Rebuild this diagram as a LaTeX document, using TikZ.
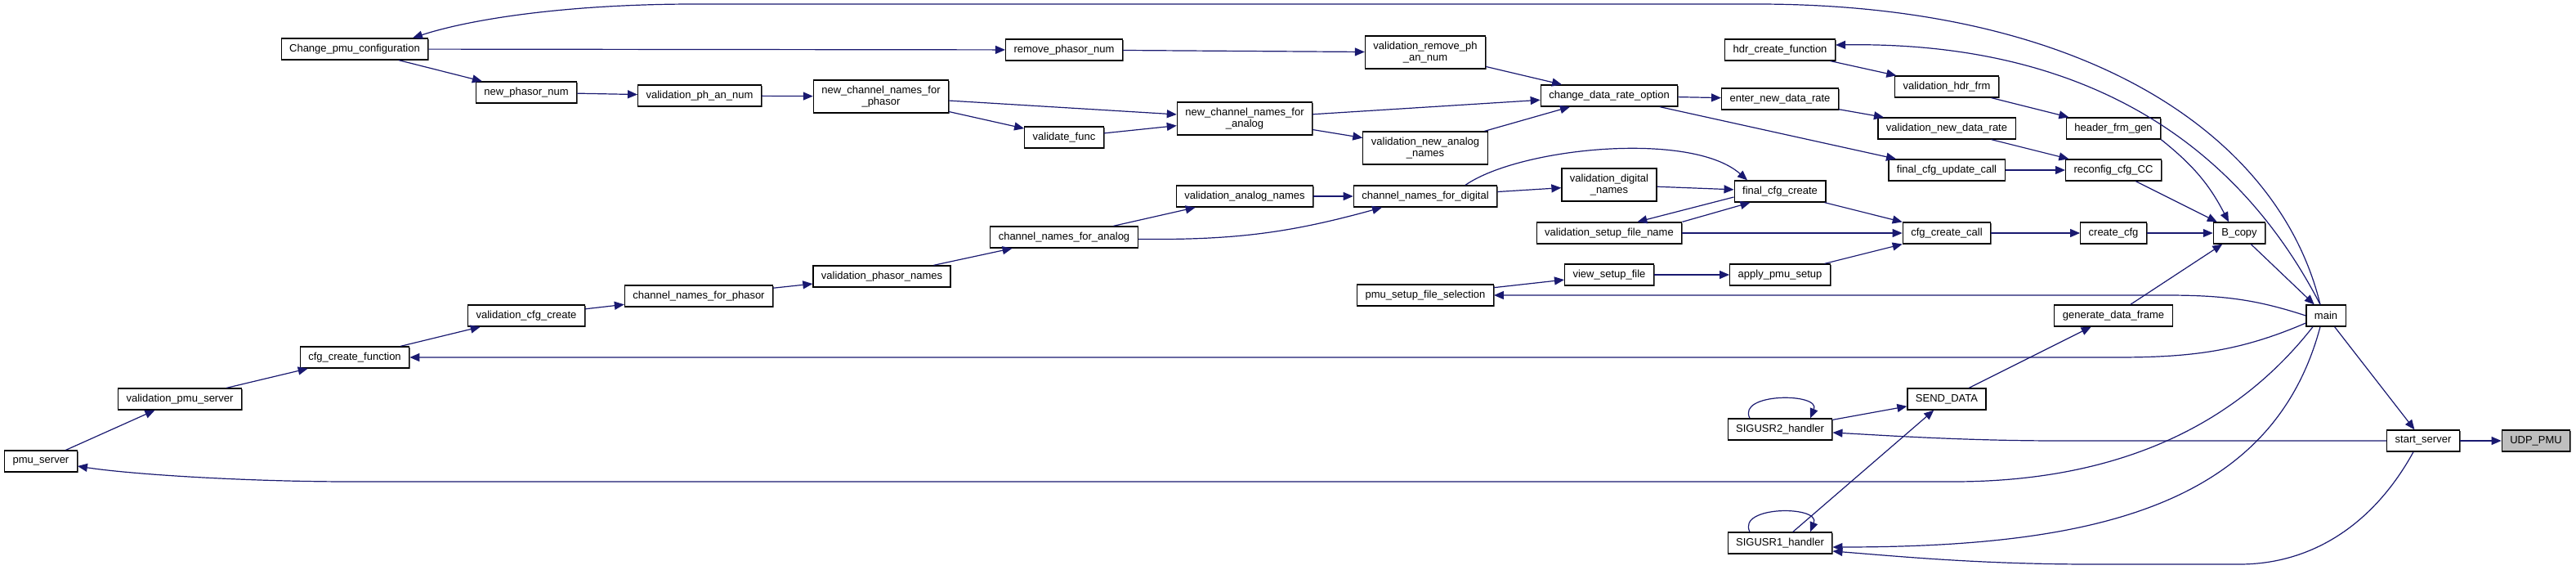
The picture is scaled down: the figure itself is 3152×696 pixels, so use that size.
\documentclass[tikz,border=0pt]{standalone}
\usepackage{fontspec}
\setmainfont{Liberation Sans}
\usetikzlibrary{arrows.meta, calc, shadows}
\definecolor{edgeblue}{RGB}{25,25,112}

\begin{document}
\begin{tikzpicture}[x=1pt, y=-1pt, font=\fontsize{13}{14}\selectfont,
	fn/.style={draw=black, line width=1.2pt, fill=white, inner xsep=10pt, inner ysep=7pt,
		minimum height=26pt, align=center,
		drop shadow={shadow xshift=1.2pt, shadow yshift=-1.2pt, opacity=1, fill=black!60}},
	call/.style={draw=edgeblue, line width=1.2pt, -{Triangle[length=12pt, width=10pt]}}]
	
	\useasboundingbox (0,0) rectangle (3152,696);
	
	% 1. Configuration chain (bottom left)
	\node[fn] (pms) at (50,564) {pmu\_server};
	\node[fn] (vps) at (220,488) {validation\_pmu\_server};
	\node[fn] (ccf) at (434,437) {cfg\_create\_function};
	\node[fn] (vcc) at (644,386) {validation\_cfg\_create};
	\node[fn] (cnfp) at (855,362) {channel\_names\_for\_phasor};
	\node[fn] (vpn) at (1079,338) {validation\_phasor\_names};
	\node[fn] (cnfa) at (1302,290) {channel\_names\_for\_analog};
	\node[fn] (van) at (1523,240) {validation\_analog\_names};
	\node[fn] (cnfd) at (1744,240) {channel\_names\_for\_digital};
	\node[fn] (vdn) at (1969,226) {validation\_digital\\\_names};
	\node[fn] (vsfn) at (1969,285) {validation\_setup\_file\_name};
	\node[fn] (fcc) at (2178,234) {final\_cfg\_create};
	
	% 2. Change_pmu_configuration chain (top)
	\node[fn] (cpc) at (434,60) {Change\_pmu\_configuration};
	\node[fn] (npn) at (644,113) {new\_phasor\_num};
	\node[fn] (vpan) at (856,117) {validation\_ph\_an\_num};
	\node[fn] (ncnp) at (1078,118) {new\_channel\_names\_for\\\_phasor};
	\node[fn] (vfunc) at (1302,168) {validate\_func};
	\node[fn] (rpn) at (1302,61) {remove\_phasor\_num};
	\node[fn] (ncna) at (1523,145) {new\_channel\_names\_for\\\_analog};
	\node[fn] (vrpan) at (1744,64) {validation\_remove\_ph\\\_an\_num};
	\node[fn] (vnan) at (1744,181) {validation\_new\_analog\\\_names};
	\node[fn] (cdro) at (1969,117) {change\_data\_rate\_option};
	\node[fn] (endr) at (2178,121) {enter\_new\_data\_rate};
	\node[fn] (vndr) at (2382,157) {validation\_new\_data\_rate};
	\node[fn] (fcuc) at (2382,208) {final\_cfg\_update\_call};
	\node[fn] (rcc) at (2586,208) {reconfig\_cfg\_CC};
	\node[fn] (hcf) at (2178,61) {hdr\_create\_function};
	\node[fn] (vhf) at (2382,106) {validation\_hdr\_frm};
	\node[fn] (hfg) at (2586,157) {header\_frm\_gen};
	
	% 3. Setup file and B_copy
	\node[fn] (psfs) at (1744,361) {pmu\_setup\_file\_selection};
	\node[fn] (vsf) at (1969,336) {view\_setup\_file};
	\node[fn] (aps) at (2178,336) {apply\_pmu\_setup};
	\node[fn] (ccc) at (2382,285) {cfg\_create\_call};
	\node[fn] (ccfg) at (2586,285) {create\_cfg};
	\node[fn] (bcopy) at (2740,285) {B\_copy};
	
	% 4. Right side: main, handlers, start_server
	\node[fn] (gdf) at (2586,386) {generate\_data\_frame};
	\node[fn] (mainf) at (2846,386) {main};
	\node[fn] (sd) at (2382,488) {SEND\_DATA};
	\node[fn] (su2) at (2178,525) {SIGUSR2\_handler};
	\node[fn] (su1) at (2178,664) {SIGUSR1\_handler};
	\node[fn] (ss) at (2965,539) {start\_server};
	\node[fn, fill=black!25] (udp) at (3103,539) {UDP\_PMU};
	
	% Calls along the configuration chain
	\draw[call] (pms) -- (vps);
	\draw[call] (vps) -- (ccf);
	\draw[call] (ccf) -- (vcc);
	\draw[call] (vcc) -- (cnfp);
	\draw[call] (cnfp) -- (vpn);
	\draw[call] (vpn) -- (cnfa);
	\draw[call] (cnfa) -- (van);
	\draw[call] (cnfa) to[bend right=8] (cnfd);
	\draw[call] (van) -- (cnfd);
	\draw[call] (cnfd) -- (vdn);
	\draw[call] (vdn) -- (fcc);
	\draw[call] ($(cnfd.north)+(49,0)$) .. controls (1860,180) and (2070,160) .. ($(fcc.north)+(-40,0)$);
	\draw[call] ($(fcc.west)+(0,7)$) -- ($(vsfn.north east)+(-55,0)$);
	\draw[call] (vsfn.north east) -- ($(fcc.south west)+(20,0)$);
	\draw[call] (fcc) -- (ccc);
	\draw[call] (vsfn) -- (ccc);
	\draw[call] (aps) -- (ccc);
	\draw[call] (ccc) -- (ccfg);
	\draw[call] (ccfg) -- (bcopy);
	
	% Calls from Change_pmu_configuration
	\draw[call] (cpc) -- (rpn);
	\draw[call] (cpc) -- (npn);
	\draw[call] (npn) -- (vpan);
	\draw[call] (vpan) -- (ncnp);
	\draw[call] (ncnp) -- (ncna);
	\draw[call] (ncnp) -- (vfunc);
	\draw[call] (vfunc) -- (ncna);
	\draw[call] (rpn) -- (vrpan);
	\draw[call] (vrpan) -- (cdro);
	\draw[call] (ncna) -- (cdro);
	\draw[call] (ncna) -- (vnan);
	\draw[call] (vnan) -- (cdro);
	\draw[call] (cdro) -- (endr);
	\draw[call] (cdro) -- (fcuc);
	\draw[call] (endr) -- (vndr);
	\draw[call] (vndr) -- (rcc);
	\draw[call] (fcuc) -- (rcc);
	\draw[call] (hcf) -- (vhf);
	\draw[call] (vhf) -- (hfg);
	\draw[call] (hfg.south east) to[bend left=12] ($(bcopy.north)+(-13,0)$);
	\draw[call] (rcc) -- (bcopy);
	
	% Data frames and setup file
	\draw[call] (gdf) -- (bcopy);
	\draw[call] (sd) -- (gdf);
	\draw[call] (su2) -- (sd);
	\draw[call] (su1) -- (sd);
	\draw[call] (psfs) -- (vsf);
	\draw[call] (vsf) -- (aps);
	\draw[call] (bcopy) -- (mainf);
	\draw[call] (mainf) -- (ss);
	\draw[call] (ss) -- (udp);
	
	% Long calls from main and start_server
	\draw[call] ($(mainf.north)+(-7,0)$) .. controls (2790,170) and (2560,5) .. (2150,5) -- (850,5)
		.. controls (700,5) and (580,22) .. ($(cpc.north)+(71,0)$);
	\draw[call] ($(mainf.north)+(-7,0)$) .. controls (2750,200) and (2580,50) .. ($(hcf.east)+(0,-6)$);
	\draw[call] (mainf.west) .. controls (2760,366) and (2720,361) .. (2650,361) -- (psfs.east);
	\draw[call] ($(mainf.west)+(0,9)$) .. controls (2740,430) and (2680,437) .. (2590,437) -- (ccf.east);
	\draw[call] ($(mainf.south)+(-16,0)$) .. controls (2720,540) and (2560,589) .. (2390,589) -- (430,589)
		.. controls (300,589) and (160,580) .. ($(pms.east)+(0,6)$);
	\draw[call] ($(mainf.south)+(-7,0)$) .. controls (2780,620) and (2560,669) .. ($(su1.east)+(0,5)$);
	\draw[call] ($(ss.south)+(-12,0)$) .. controls (2905,640) and (2830,690) .. (2740,690) -- (2560,690)
		.. controls (2420,690) and (2320,680) .. ($(su1.east)+(0,10)$);
	\draw[call] (ss.west) -- (2520,539) .. controls (2400,539) and (2300,532) .. ($(su2.east)+(0,4)$);
	
	% Self calls of the handlers
	\draw[call] ($(su2.north)+(-37,0)$) .. controls (2125,480) and (2228,480) .. ($(su2.north)+(37,0)$);
	\draw[call] ($(su1.north)+(-37,0)$) .. controls (2125,618) and (2228,618) .. ($(su1.north)+(37,0)$);
	
\end{tikzpicture}
\end{document}
